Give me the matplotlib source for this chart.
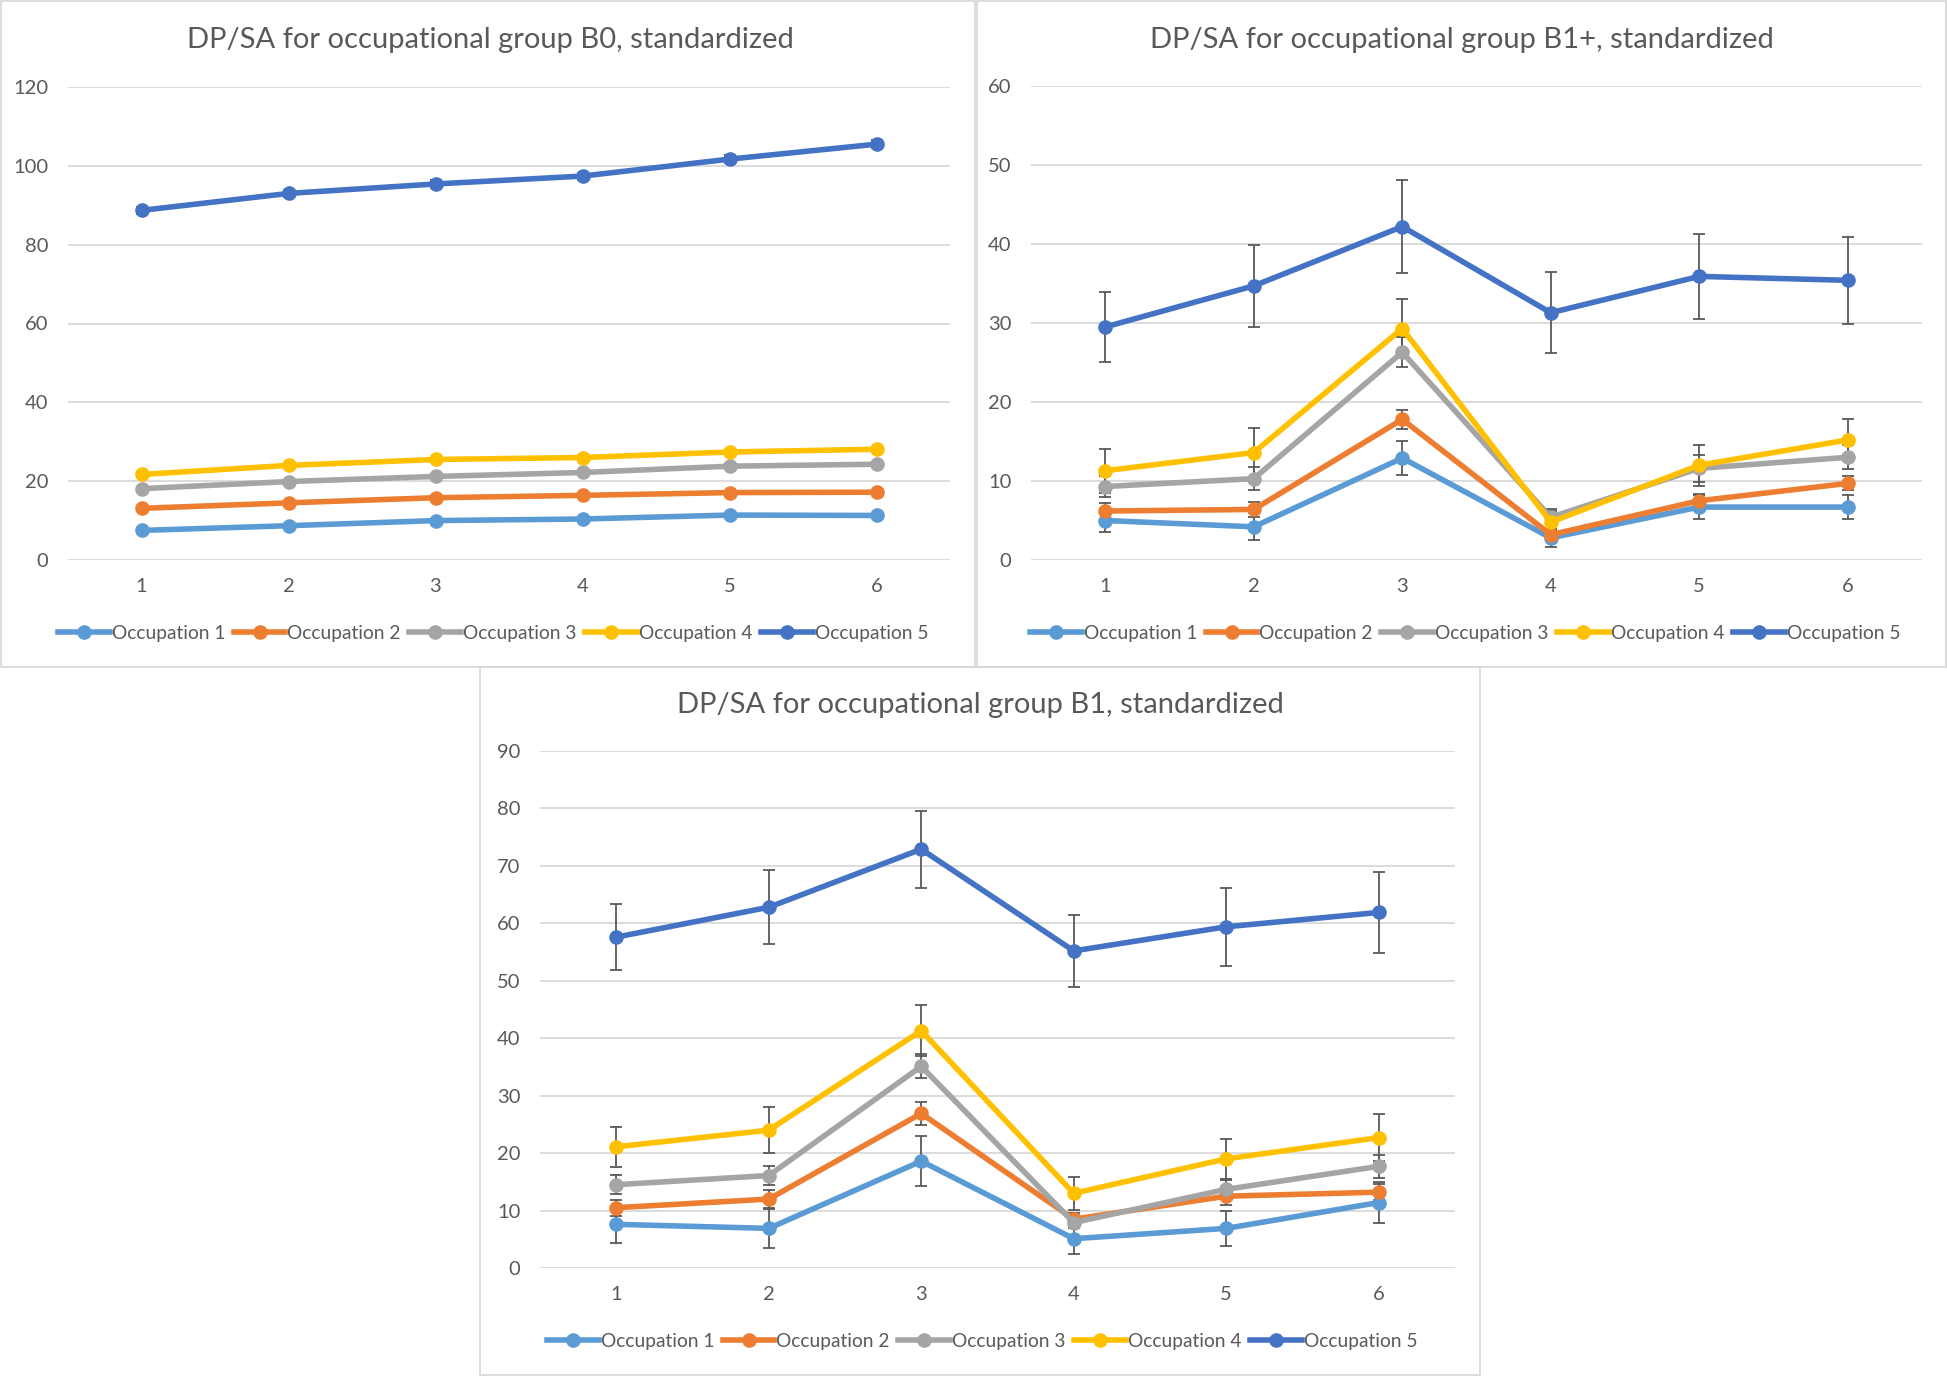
import numpy as np
import matplotlib.pyplot as plt
from matplotlib.patches import Rectangle

# ---------------------------------------------------------------------------
# DATA
# ---------------------------------------------------------------------------
x = [1, 2, 3, 4, 5, 6]
series_names = ["Occupation 1", "Occupation 2", "Occupation 3", "Occupation 4", "Occupation 5"]
colors = ["#5B9BD5", "#ED7D31", "#A5A5A5", "#FFC000", "#4472C4"]

# group B0
b0_occ1 = [7.5, 8.7, 10.0, 10.4, 11.4, 11.3]
b0_occ2 = [13.1, 14.5, 15.8, 16.4, 17.1, 17.2]
b0_occ3 = [18.1, 19.9, 21.2, 22.2, 23.8, 24.3]
b0_occ4 = [21.7, 24.0, 25.5, 26.0, 27.4, 28.1]
b0_occ5 = [88.7, 93.0, 95.4, 97.4, 101.7, 105.5]
b0_err1 = [0.2, 0.2, 0.2, 0.2, 0.2, 0.2]
b0_err2 = [0.2, 0.2, 0.2, 0.2, 0.2, 0.2]
b0_err3 = [0.2, 0.2, 0.2, 0.2, 0.2, 0.2]
b0_err4 = [0.3, 0.3, 0.3, 0.3, 0.3, 0.3]
b0_err5 = [0.9, 0.9, 0.9, 0.9, 1.0, 1.0]

# group B1+
b1p_occ1 = [5.0, 4.2, 12.9, 2.8, 6.7, 6.7]
b1p_occ2 = [6.2, 6.4, 17.8, 3.2, 7.5, 9.7]
b1p_occ3 = [9.3, 10.3, 26.3, 5.4, 11.6, 13.0]
b1p_occ4 = [11.3, 13.6, 29.3, 4.8, 12.0, 15.2]
b1p_occ5 = [29.5, 34.7, 42.2, 31.3, 35.9, 35.4]
b1p_err1 = [1.5, 1.7, 2.2, 1.1, 1.5, 1.5]
b1p_err2 = [1.0, 1.0, 1.2, 0.6, 0.8, 0.9]
b1p_err3 = [1.3, 1.5, 1.9, 0.8, 1.7, 1.5]
b1p_err4 = [2.8, 3.1, 3.7, 1.6, 2.6, 2.7]
b1p_err5 = [4.4, 5.2, 5.9, 5.1, 5.4, 5.5]

# group B1
b1_occ1 = [7.6, 6.9, 18.6, 5.1, 6.9, 11.4]
b1_occ2 = [10.5, 12.0, 26.9, 8.5, 12.5, 13.2]
b1_occ3 = [14.5, 16.1, 35.1, 7.9, 13.7, 17.7]
b1_occ4 = [21.1, 24.0, 41.3, 13.0, 19.0, 22.7]
b1_occ5 = [57.6, 62.8, 72.9, 55.2, 59.4, 61.9]
b1_err1 = [3.2, 3.4, 4.3, 2.6, 3.0, 3.6]
b1_err2 = [1.4, 1.6, 2.0, 1.1, 1.5, 1.4]
b1_err3 = [1.7, 1.7, 2.1, 1.0, 1.6, 2.0]
b1_err4 = [3.5, 4.0, 4.4, 2.9, 3.5, 4.1]
b1_err5 = [5.8, 6.4, 6.7, 6.3, 6.8, 7.0]

TEXT = "#595959"
GRID = "#D9D9D9"
FONT = ["Lato", "DejaVu Sans"]

W, H = 1947, 1376
plt.rcParams["font.family"] = FONT

fig = plt.figure(figsize=(W / 100, H / 100), dpi=100)
fig.patch.set_facecolor("white")


def px_axes(x0, y0, x1, y1):
    """Add an axes given pixel box (top-left origin)."""
    return fig.add_axes([x0 / W, 1 - y1 / H, (x1 - x0) / W, (y1 - y0) / H])


def panel_border(x0, y0, x1, y1):
    fig.add_artist(Rectangle((x0 / W, 1 - y1 / H), (x1 - x0) / W, (y1 - y0) / H,
                             transform=fig.transFigure, fill=False,
                             edgecolor=GRID, linewidth=1.3))


def draw_chart(ax, values, errors, ymax, ystep, title, title_xy, legend_xy):
    for i, (vals, errs) in enumerate(zip(values, errors)):
        ax.errorbar(x, vals, yerr=errs, fmt="none", ecolor=TEXT, elinewidth=1.3,
                    capsize=4.3, capthick=1.3, zorder=2)
        ax.plot(x, vals, color=colors[i], lw=4.0, marker="o", ms=9.5,
                label=series_names[i], zorder=3 + i * 0.1, clip_on=False)
    ax.set_xlim(0.5, 6.5)
    ax.set_ylim(0, ymax)
    ax.set_yticks(np.arange(0, ymax + 1, ystep))
    ax.set_xticks(x)
    ax.yaxis.grid(True, color=GRID, lw=1.3)
    ax.set_axisbelow(True)
    for s in ax.spines.values():
        s.set_visible(False)
    ax.tick_params(length=0, labelsize=14.5, labelcolor=TEXT)
    ax.tick_params(axis="y", pad=14)
    ax.tick_params(axis="x", pad=13)

    fig.text(title_xy[0] / W, 1 - title_xy[1] / H, title, ha="center", va="center",
             fontsize=21, color=TEXT)
    handles, _ = ax.get_legend_handles_labels()
    fig.legend(handles=handles, labels=series_names, loc="center",
               bbox_to_anchor=(legend_xy[0] / W, 1 - legend_xy[1] / H),
               ncol=5, frameon=False, fontsize=13.8, labelcolor=TEXT,
               handlelength=2.7, handletextpad=0.1, columnspacing=0.45,
               borderpad=0, borderaxespad=0)


# panel borders
panel_border(1, 1, 975, 667)
panel_border(977, 1, 1946, 667)
panel_border(480, 667, 1480, 1375)

# top-left: B0
ax1 = px_axes(68, 87, 950, 560)
draw_chart(ax1,
           [b0_occ1, b0_occ2, b0_occ3, b0_occ4, b0_occ5],
           [b0_err1, b0_err2, b0_err3, b0_err4, b0_err5],
           120, 20, "DP/SA for occupational group B0, standardized",
           (490, 40), (493, 633))

# top-right: B1+
ax2 = px_axes(1031, 86, 1922, 560)
draw_chart(ax2,
           [b1p_occ1, b1p_occ2, b1p_occ3, b1p_occ4, b1p_occ5],
           [b1p_err1, b1p_err2, b1p_err3, b1p_err4, b1p_err5],
           60, 10, "DP/SA for occupational group B1+, standardized",
           (1462, 40), (1465, 633))

# bottom: B1
ax3 = px_axes(540, 751, 1455, 1268)
draw_chart(ax3,
           [b1_occ1, b1_occ2, b1_occ3, b1_occ4, b1_occ5],
           [b1_err1, b1_err2, b1_err3, b1_err4, b1_err5],
           90, 10, "DP/SA for occupational group B1, standardized",
           (980, 705), (982, 1341))

fig.savefig("out.png", dpi=100, facecolor="white")
